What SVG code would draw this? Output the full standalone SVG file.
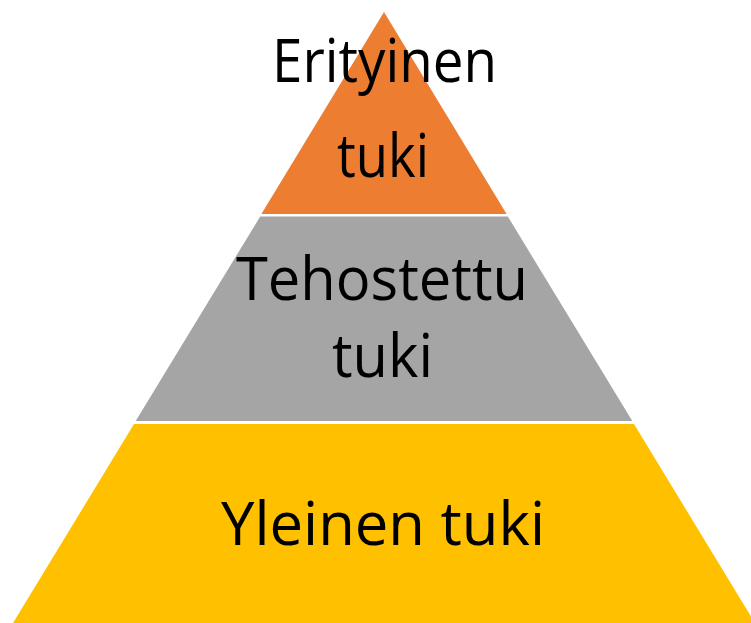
<svg xmlns="http://www.w3.org/2000/svg" width="751" height="623" viewBox="0 0 751 623">
<style>
.lbl{font-family:"Open Sans","Liberation Sans",sans-serif;font-size:60px;fill:#000;text-anchor:middle}
</style>
<rect width="751" height="623" fill="#fff"/>
<g id="tier-top">
<polygon points="384,12 506.6,214 261.4,214" fill="#ED7D31"/>
<text class="lbl" x="384.5" y="82" textLength="225" lengthAdjust="spacingAndGlyphs">Erityinen</text>
<text class="lbl" x="383" y="177" textLength="92" lengthAdjust="spacingAndGlyphs">tuki</text>
</g>
<g id="tier-middle">
<polygon points="260.2,216.5 507.8,216.5 632.3,421 135.7,421" fill="#A5A5A5"/>
<text class="lbl" x="382" y="300" textLength="292" lengthAdjust="spacingAndGlyphs">Tehostettu</text>
<text class="lbl" x="382.5" y="377" textLength="101" lengthAdjust="spacingAndGlyphs">tuki</text>
</g>
<g id="tier-bottom">
<polygon points="134,424 634,424 755,623 13,623" fill="#FFC000"/>
<text class="lbl" x="383" y="545" textLength="324" lengthAdjust="spacingAndGlyphs">Yleinen tuki</text>
</g>
<g id="connectors"/>
</svg>
